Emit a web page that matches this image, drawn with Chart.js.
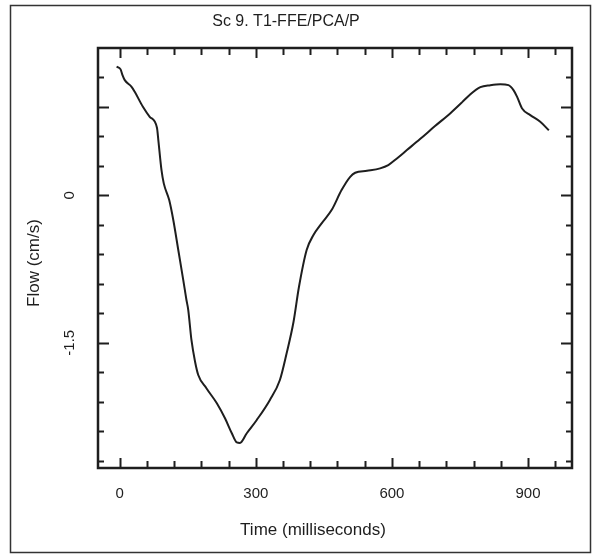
<!DOCTYPE html>
<html>
<head>
<meta charset="utf-8">
<script src="https://cdn.jsdelivr.net/npm/chart.js@4.4.1/dist/chart.umd.min.js"></script>
<style>
  html, body { margin: 0; padding: 0; background: #fff; }
  canvas { display: block; }
</style>
</head>
<body>
<canvas id="flowChart" width="594" height="554"></canvas>
<script>
// values
const timeMs = [-7, 1.5, 6, 11, 26, 33, 51, 66, 82, 85, 92, 97, 109, 118, 129, 140, 147, 151, 158, 166, 173,
  191, 214, 232, 247, 258, 265, 280, 302, 331, 353, 368, 383, 395, 412, 427, 445, 467, 489, 508, 519,
  545, 574, 592, 611, 633, 662, 695, 729, 755, 773, 795, 817, 839, 857, 868, 876, 887, 905, 927, 946];
const flowCmS = [1.31, 1.285, 1.224, 1.173, 1.105, 1.054, 0.901, 0.8, 0.688, 0.563, 0.257, 0.122, -0.048,
  -0.251, -0.556, -0.862, -1.065, -1.167, -1.472, -1.693, -1.828, -1.963, -2.116, -2.269, -2.421, -2.515,
  -2.52, -2.421, -2.286, -2.082, -1.879, -1.604, -1.289, -0.933, -0.556, -0.404, -0.285, -0.15, 0.054,
  0.189, 0.23, 0.25, 0.275, 0.308, 0.376, 0.461, 0.573, 0.705, 0.837, 0.949, 1.03, 1.102, 1.122, 1.132,
  1.122, 1.071, 1.003, 0.885, 0.817, 0.749, 0.662];

const xTicks = [0, 60, 120, 180, 240, 300, 360, 420, 480, 540, 600, 660, 720, 780, 840, 900, 960];
const xLabelTicks = [0, 300, 600, 900];
const yTicks = [1.2, 0.9, 0.6, 0.3, 0, -0.3, -0.6, -0.9, -1.2, -1.5, -1.8, -2.1, -2.4, -2.7];
const yLabelTicks = [0, -1.5];
const yLongTicks = [0.9, 0, -1.5];

const ink = "#1e1e1e";
const family = "'Liberation Sans', Arial, sans-serif";
const tickFont = { family: family, size: 15 };
const axisTitleSize = 17;

// inward tick marks, closed frame, outer box and axis titles
const framePlugin = {
  id: "frame",
  afterDraw(chart) {
    const { ctx, chartArea: a, scales } = chart;
    ctx.save();
    ctx.strokeStyle = ink;
    ctx.lineWidth = 2;
    xTicks.forEach((v) => {
      const px = Math.round(scales.x.getPixelForValue(v)) + 0.5;
      const len = xLabelTicks.includes(v) ? 10 : 7;
      ctx.beginPath();
      ctx.moveTo(px, a.bottom);
      ctx.lineTo(px, a.bottom - len);
      ctx.moveTo(px, a.top);
      ctx.lineTo(px, a.top + len);
      ctx.stroke();
    });
    yTicks.forEach((v) => {
      const py = Math.round(scales.y.getPixelForValue(v)) + 0.5;
      const len = yLongTicks.includes(v) ? 11 : 6;
      ctx.beginPath();
      ctx.moveTo(a.left, py);
      ctx.lineTo(a.left + len, py);
      ctx.moveTo(a.right, py);
      ctx.lineTo(a.right - len, py);
      ctx.stroke();
    });
    ctx.lineWidth = 2.5;
    ctx.strokeRect(a.left, a.top, a.right - a.left, a.bottom - a.top);

    ctx.lineWidth = 1.5;
    ctx.strokeStyle = "#333";
    ctx.strokeRect(10.5, 5.5, 580, 547);

    ctx.fillStyle = ink;
    ctx.font = axisTitleSize + "px " + family;
    ctx.textAlign = "center";
    ctx.textBaseline = "middle";
    ctx.fillText("Time (milliseconds)", 313, 530);
    ctx.translate(34, 263);
    ctx.rotate(-Math.PI / 2);
    ctx.fillText("Flow (cm/s)", 0, 0);
    ctx.restore();
  }
};

const ctx = document.getElementById("flowChart").getContext("2d");
new Chart(ctx, {
  type: "line",
  data: {
    datasets: [{
      data: timeMs.map((t, i) => ({ x: t, y: flowCmS[i] })),
      borderColor: ink,
      borderWidth: 2,
      pointRadius: 0,
      fill: false,
      cubicInterpolationMode: "monotone"
    }]
  },
  options: {
    responsive: false,
    animation: false,
    devicePixelRatio: 1,
    layout: { padding: { left: 0, right: 22, top: 0, bottom: 0 } },
    plugins: {
      legend: { display: false },
      tooltip: { enabled: false },
      title: {
        display: true,
        text: "Sc 9. T1-FFE/PCA/P",
        color: ink,
        font: { family: family, size: 16, weight: "normal", lineHeight: 1.2 },
        padding: { top: 12, bottom: 16.8 }
      }
    },
    scales: {
      x: {
        type: "linear",
        min: -48,
        max: 997,
        afterBuildTicks: (s) => { s.ticks = xTicks.map((v) => ({ value: v })); },
        afterFit: (s) => { s.height = 86; },
        grid: { display: false, drawTicks: false },
        border: { display: false },
        ticks: {
          autoSkip: false,
          maxRotation: 0,
          padding: 17,
          color: ink,
          font: tickFont,
          callback: (v) => (xLabelTicks.includes(v) ? String(v) : "")
        }
      },
      y: {
        min: -2.775,
        max: 1.5,
        afterBuildTicks: (s) => { s.ticks = yTicks.map((v) => ({ value: v })); },
        afterFit: (s) => { s.width = 98; },
        grid: { display: false, drawTicks: false },
        border: { display: false },
        ticks: {
          autoSkip: false,
          minRotation: 90,
          maxRotation: 90,
          crossAlign: "center",
          padding: 15,
          color: ink,
          font: tickFont,
          callback: (v) => (yLabelTicks.includes(v) ? String(v) : "")
        }
      }
    }
  },
  plugins: [framePlugin]
});
</script>
</body>
</html>
